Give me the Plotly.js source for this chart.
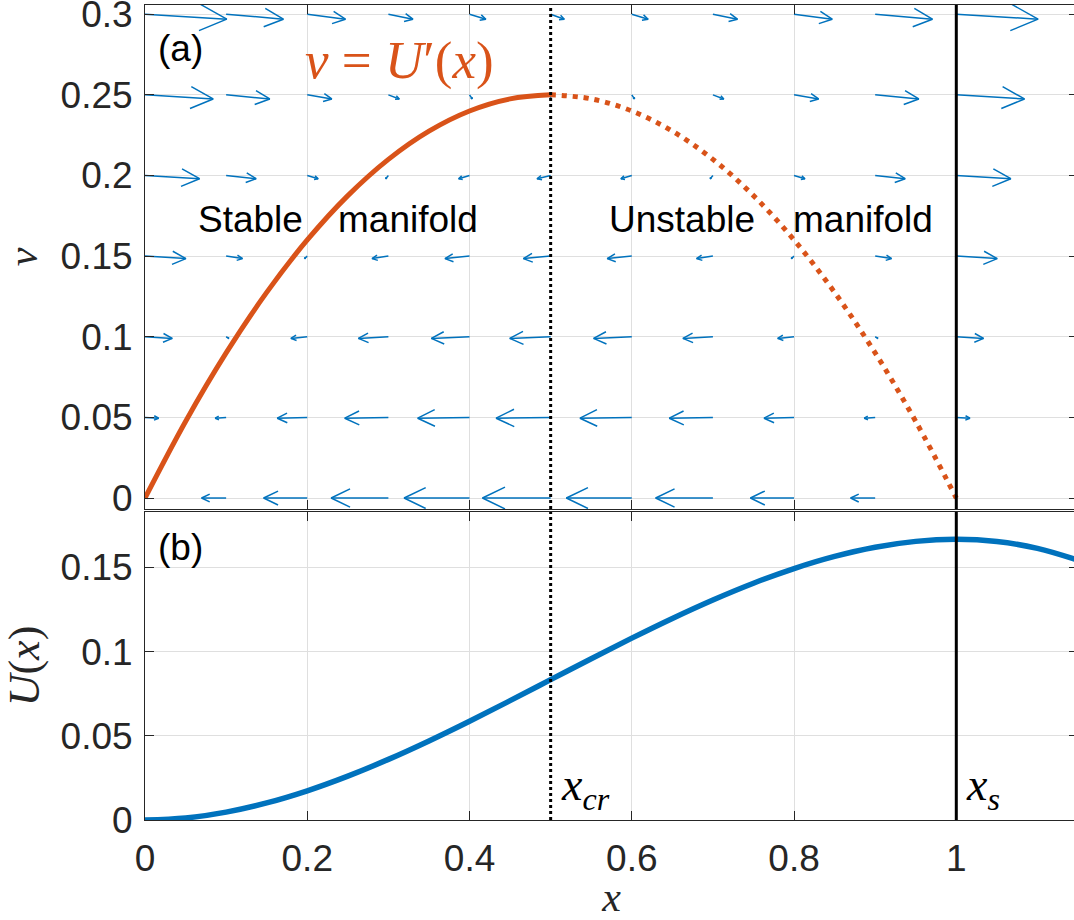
<!DOCTYPE html>
<html><head><meta charset="utf-8">
<script src="https://cdn.plot.ly/plotly-3.0.1.min.js"></script>
<style>html,body{margin:0;padding:0;overflow:hidden;background:#fff}</style>
</head><body><div id="chart" style="width:1080px;height:920px"></div>
<script>
// ---------------- data ----------------
const gridX = [0, 0.1, 0.2, 0.3, 0.4, 0.5, 0.6, 0.7, 0.8, 0.9, 1.0];
const gridV = [0, 0.05, 0.1, 0.15, 0.2, 0.25, 0.3];
// horizontal arrow component per row of gridV
const arrowU = [
  [0, -0.09, -0.16, -0.21, -0.24, -0.25, -0.24, -0.21, -0.16, -0.09, 0],
  [0.05, -0.04, -0.11, -0.16, -0.19, -0.20, -0.19, -0.16, -0.11, -0.04, 0.05],
  [0.10, 0.01, -0.06, -0.11, -0.14, -0.15, -0.14, -0.11, -0.06, 0.01, 0.10],
  [0.15, 0.06, -0.01, -0.06, -0.09, -0.10, -0.09, -0.06, -0.01, 0.06, 0.15],
  [0.20, 0.11, 0.04, -0.01, -0.04, -0.05, -0.04, -0.01, 0.04, 0.11, 0.20],
  [0.25, 0.16, 0.09, 0.04, 0.01, 0, 0.01, 0.04, 0.09, 0.16, 0.25],
  [0.30, 0.21, 0.14, 0.09, 0.06, 0.05, 0.06, 0.09, 0.14, 0.21, 0.30]
];
// vertical arrow component per row of gridV
const arrowW = [0, -0.0015, -0.003, -0.0046, -0.006, -0.0076, -0.0092];
const arrowScale = 0.336;

const curveX = [0, 0.05, 0.1, 0.15, 0.2, 0.25, 0.3, 0.35, 0.4, 0.45, 0.5, 0.55, 0.6, 0.65, 0.7, 0.75, 0.8, 0.85, 0.9, 0.95, 1.0];
const curveV = [0, 0.0475, 0.09, 0.1275, 0.16, 0.1875, 0.21, 0.2275, 0.24, 0.2475, 0.25, 0.2475, 0.24, 0.2275, 0.21, 0.1875, 0.16, 0.1275, 0.09, 0.0475, 0];

const potX = [0, 0.05, 0.1, 0.15, 0.2, 0.25, 0.3, 0.35, 0.4, 0.45, 0.5, 0.55, 0.6, 0.65, 0.7, 0.75, 0.8, 0.85, 0.9, 0.95, 1.0, 1.05, 1.1, 1.15];
const potU = [0, 0.00121, 0.00467, 0.01013, 0.01733, 0.02604, 0.036, 0.04696, 0.05867, 0.07088, 0.08333, 0.09579, 0.108, 0.11971, 0.13067, 0.14063, 0.14933, 0.15654, 0.162, 0.16546, 0.16667, 0.16538, 0.16133, 0.15429];

const xCr = 0.5;
const xS = 1.0;

const xTicks = [0, 0.2, 0.4, 0.6, 0.8, 1];
const xTickText = ['0', '0.2', '0.4', '0.6', '0.8', '1'];
const vTicks = [0, 0.05, 0.1, 0.15, 0.2, 0.25, 0.3];
const vTickText = ['0', '0.05', '0.1', '0.15', '0.2', '0.25', '0.3'];
const uTicks = [0, 0.05, 0.1, 0.15];
const uTickText = ['0', '0.05', '0.1', '0.15'];

// ---------------- layout geometry ----------------
const W = 1080, H = 920;
const M = {l: 145, r: 2, t: 5, b: 100};
const xRange = [0, 1.15];
const vRange = [-0.0068, 0.3057];
const uRange = [0, 0.1829];
const topDomain = [0.3816, 1];
const botDomain = [0, 0.3779];

const plotW = W - M.l - M.r;
const plotH = H - M.t - M.b;
const pxX = plotW / (xRange[1] - xRange[0]);
const pxV = plotH * (topDomain[1] - topDomain[0]) / (vRange[1] - vRange[0]);

// ---------------- quiver construction ----------------
const qx = [], qy = [];
const headBack = 0.33, headHalf = 0.16;
gridV.forEach((v0, r) => {
  gridX.forEach((x0, c) => {
    const dx = arrowScale * arrowU[r][c];
    const dy = arrowScale * arrowW[r];
    const ex = dx * pxX, ey = dy * pxV;
    const L = Math.hypot(ex, ey);
    if (L < 0.5) return;
    const hx = x0 + dx, hy = v0 + dy;
    const ux = ex / L, uy = ey / L;
    const bx = -ux * headBack * L, by = -uy * headBack * L;
    const px = -uy * headHalf * L, py = ux * headHalf * L;
    qx.push(x0, hx, null);
    qy.push(v0, hy, null);
    qx.push(hx + (bx + px) / pxX, hx, hx + (bx - px) / pxX, null);
    qy.push(hy + (by + py) / pxV, hy, hy + (by - py) / pxV, null);
  });
});

const iCr = curveX.indexOf(xCr);
const blue = '#0072BD', orange = '#D95319';

const traces = [
  {x: qx, y: qy, xaxis: 'x', yaxis: 'y', mode: 'lines', line: {color: blue, width: 1.5}, hoverinfo: 'skip'},
  {x: curveX.slice(0, iCr + 1), y: curveV.slice(0, iCr + 1), xaxis: 'x', yaxis: 'y', mode: 'lines',
   line: {color: orange, width: 5, shape: 'spline', smoothing: 1}},
  {x: curveX.slice(iCr), y: curveV.slice(iCr), xaxis: 'x', yaxis: 'y', mode: 'lines',
   line: {color: orange, width: 5, shape: 'spline', smoothing: 1, dash: '5px,6px'}},
  {x: potX, y: potU, xaxis: 'x2', yaxis: 'y2', mode: 'lines',
   line: {color: blue, width: 5.5, shape: 'spline', smoothing: 1}}
];

const axisCommon = {
  showline: true, linecolor: '#262626', linewidth: 1, mirror: 'ticks',
  ticks: 'inside', ticklen: 9, tickcolor: '#262626', tickwidth: 1,
  showgrid: true, gridcolor: '#dfdfdf', gridwidth: 1, zeroline: false,
  ticklabeloverflow: 'allow',
  tickfont: {family: 'Liberation Sans, Arial, sans-serif', size: 37, color: '#262626'}
};
const mathFont = 'Liberation Serif, Times New Roman, serif';

const layout = {
  width: W, height: H, margin: M, showlegend: false,
  paper_bgcolor: '#fff', plot_bgcolor: '#fff',
  xaxis: Object.assign({}, axisCommon, {domain: [0, 1], anchor: 'y', range: xRange,
    tickmode: 'array', tickvals: xTicks, ticktext: xTickText, showticklabels: false}),
  yaxis: Object.assign({}, axisCommon, {domain: topDomain, anchor: 'x', range: vRange,
    tickmode: 'array', tickvals: vTicks, ticktext: vTickText, ticklabelstandoff: 4,
    title: {text: '<i>v</i>', font: {family: mathFont, size: 42, color: '#262626'}, standoff: 12}}),
  xaxis2: Object.assign({}, axisCommon, {domain: [0, 1], anchor: 'y2', range: xRange,
    tickmode: 'array', tickvals: xTicks, ticktext: xTickText, ticklabelstandoff: 6,
    title: {text: '<i>x</i>', font: {family: mathFont, size: 42, color: '#262626'}, standoff: 14}}),
  yaxis2: Object.assign({}, axisCommon, {domain: botDomain, anchor: 'x2', range: uRange,
    tickmode: 'array', tickvals: uTicks, ticktext: uTickText, ticklabelstandoff: 4,
    title: {text: '<i>U</i>(<i>x</i>)', font: {family: mathFont, size: 44, color: '#262626'}, standoff: 12}}),
  shapes: [
    {type: 'line', xref: 'x', yref: 'y domain', x0: xCr, x1: xCr, y0: 0, y1: 1, line: {color: '#000', width: 3, dash: 'dot'}},
    {type: 'line', xref: 'x2', yref: 'y2 domain', x0: xCr, x1: xCr, y0: 0, y1: 1, line: {color: '#000', width: 3, dash: 'dot'}},
    {type: 'line', xref: 'x', yref: 'y domain', x0: xS, x1: xS, y0: 0, y1: 1, line: {color: '#000', width: 3}},
    {type: 'line', xref: 'x2', yref: 'y2 domain', x0: xS, x1: xS, y0: 0, y1: 1, line: {color: '#000', width: 3}}
  ],
  annotations: [
    {text: '(a)', xref: 'x', yref: 'y', x: 0.013, y: 0.279, xanchor: 'left', yanchor: 'middle', showarrow: false,
     font: {family: 'Liberation Sans, Arial, sans-serif', size: 37, color: '#000'}},
    {text: '<i>v</i> = <i>U</i>′(<i>x</i>)', xref: 'x', yref: 'y', x: 0.195, y: 0.2716, xanchor: 'left', yanchor: 'middle', showarrow: false,
     font: {family: mathFont, size: 53, color: orange}},
    {text: 'Stable', xref: 'x', yref: 'y', x: 0.063, y: 0.1724, xanchor: 'left', yanchor: 'middle', showarrow: false,
     font: {family: 'Liberation Sans, Arial, sans-serif', size: 37, color: '#000'}},
    {text: 'manifold', xref: 'x', yref: 'y', x: 0.236, y: 0.1724, xanchor: 'left', yanchor: 'middle', showarrow: false,
     font: {family: 'Liberation Sans, Arial, sans-serif', size: 37, color: '#000'}},
    {text: 'Unstable', xref: 'x', yref: 'y', x: 0.570, y: 0.1724, xanchor: 'left', yanchor: 'middle', showarrow: false,
     font: {family: 'Liberation Sans, Arial, sans-serif', size: 37, color: '#000'}},
    {text: 'manifold', xref: 'x', yref: 'y', x: 0.796, y: 0.1724, xanchor: 'left', yanchor: 'middle', showarrow: false,
     font: {family: 'Liberation Sans, Arial, sans-serif', size: 37, color: '#000'}},
    {text: '(b)', xref: 'x2', yref: 'y2', x: 0.013, y: 0.162, xanchor: 'left', yanchor: 'middle', showarrow: false,
     font: {family: 'Liberation Sans, Arial, sans-serif', size: 37, color: '#000'}},
    {text: '<i>x</i><sub><i>cr</i></sub>', xref: 'x2', yref: 'y2', x: 0.51, y: 0.019, xanchor: 'left', yanchor: 'middle', showarrow: false,
     font: {family: mathFont, size: 46, color: '#000'}},
    {text: '<i>x</i><sub><i>s</i></sub>', xref: 'x2', yref: 'y2', x: 1.01, y: 0.019, xanchor: 'left', yanchor: 'middle', showarrow: false,
     font: {family: mathFont, size: 46, color: '#000'}}
  ]
};

Plotly.newPlot('chart', traces, layout, {staticPlot: true, displayModeBar: false});
</script>
</body></html>
